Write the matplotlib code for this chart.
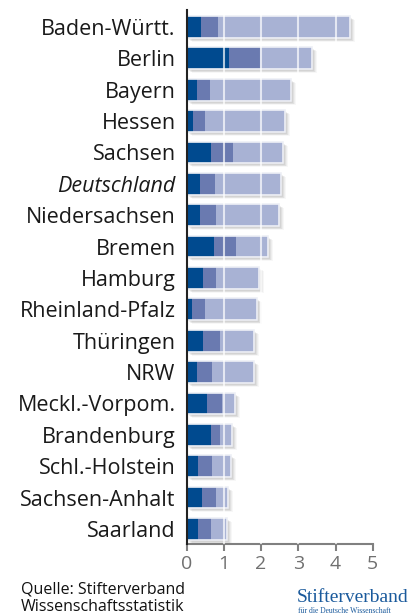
import matplotlib.pyplot as plt
import matplotlib.transforms as mtransforms
import numpy as np

# data (per segment)
laender = ['Baden-Württ.', 'Berlin', 'Bayern', 'Hessen', 'Sachsen', 'Deutschland',
           'Niedersachsen', 'Bremen', 'Hamburg', 'Rheinland-Pfalz', 'Thüringen', 'NRW',
           'Meckl.-Vorpom.', 'Brandenburg', 'Schl.-Holstein', 'Sachsen-Anhalt', 'Saarland']
seg_dunkel = [0.38, 1.13, 0.27, 0.17, 0.65, 0.36, 0.36, 0.73, 0.44, 0.14, 0.44, 0.28,
              0.55, 0.65, 0.30, 0.41, 0.30]
seg_mittel = [0.45, 0.85, 0.36, 0.32, 0.59, 0.40, 0.43, 0.60, 0.35, 0.35, 0.46, 0.40,
              0.41, 0.25, 0.38, 0.38, 0.35]
seg_hell = [3.57, 1.40, 2.18, 2.15, 1.36, 1.78, 1.70, 0.86, 1.15, 1.39, 0.91, 1.12,
            0.35, 0.31, 0.50, 0.33, 0.43]
xticks = [0, 1, 2, 3, 4, 5]

farben = ['#004a8f', '#6a7ab0', '#a8b2d4']
plt.rcParams['font.family'] = ['Open Sans', 'DejaVu Sans']

fig = plt.figure(figsize=(4.08, 6.15), dpi=100)
ax = fig.add_axes([186.7/408, 1-544/615, (372.7-186.7)/408, (544-10)/615])

y = np.arange(len(laender))
d = np.array(seg_dunkel)
m = np.array(seg_mittel)
h = np.array(seg_hell)
total = d + m + h
hoehe = 0.69

# soft drop shadow
for dx, dy, a in [(1, -1, 0.06), (2, -2, 0.06), (3, -3, 0.05), (4, -3, 0.04), (5, -4, 0.03)]:
    tr = mtransforms.offset_copy(ax.transData, fig=fig, x=dx*0.72, y=dy*0.72, units='points')
    ax.barh(y, total, height=hoehe, color='black', alpha=a, transform=tr, zorder=1, linewidth=0)

links = np.zeros(len(y))
for werte, f in zip([d, m, h], farben):
    ax.barh(y, werte, left=links, height=hoehe, color=f, linewidth=0, zorder=2)
    links = links + werte
ax.barh(y, total, height=hoehe, facecolor='none', edgecolor='#eef0f6', linewidth=1.2, zorder=3)

for gx in xticks[1:-1]:
    ax.axvline(gx, color='white', alpha=0.7, lw=1.5, zorder=4)

ax.set_xlim(0, 5)
ax.set_ylim(16.48, -0.54)
ax.set_yticks(y)
ax.set_yticklabels(laender, fontsize=15.5, color='#1a1a1a')
ax.get_yticklabels()[laender.index('Deutschland')].set_fontstyle('italic')
ax.tick_params(axis='y', length=0, pad=8)
ax.set_xticks(xticks)
ax.tick_params(axis='x', length=5, width=1.5, color='#808080', labelcolor='#707070',
               labelsize=14, pad=3)
for s in ['top', 'right']:
    ax.spines[s].set_visible(False)
ax.spines['left'].set_color('#222222')
ax.spines['left'].set_linewidth(1.5)
ax.spines['left'].set_zorder(5)
ax.spines['bottom'].set_color('#808080')
ax.spines['bottom'].set_linewidth(1.5)

fig.text(21/408, 1-593/615, 'Quelle: Stifterverband', fontsize=11.5, color='#111111')
fig.text(21/408, 1-611/615, 'Wissenschaftsstatistik', fontsize=11.5, color='#111111')
fig.text(297/408, 1-602/615, 'Stifterverband', fontsize=14, color='#1a5a9c',
         family='Liberation Serif')
fig.text(298/408, 1-613/615, 'für die Deutsche Wissenschaft', fontsize=5.5, color='#1a5a9c',
         family='Liberation Serif')

fig.savefig('out.png', dpi=100)
